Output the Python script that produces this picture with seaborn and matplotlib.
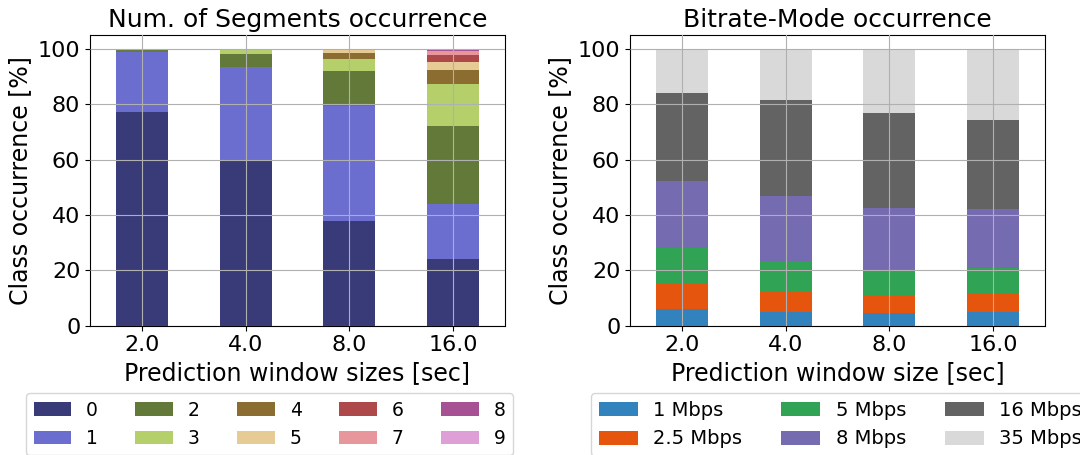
import numpy as np
import pandas as pd
import matplotlib
matplotlib.use("Agg")
import matplotlib.pyplot as plt
from matplotlib.patches import Patch
import seaborn as sns

# tailles de fenetre (axe x)
windows = ["2.0", "4.0", "8.0", "16.0"]

# Num. of Segments occurrence [%] -> une liste par classe 0..9
seg_classes = ["0", "1", "2", "3", "4", "5", "6", "7", "8", "9"]
seg_0 = [77.3, 59.9, 37.9, 24.1]
seg_1 = [21.4, 33.6, 41.6, 19.9]
seg_2 = [1.1, 4.7, 12.6, 28.2]
seg_3 = [0.2, 1.5, 4.3, 15.2]
seg_4 = [0.0, 0.2, 2.2, 5.1]
seg_5 = [0.0, 0.1, 1.1, 2.8]
seg_6 = [0.0, 0.0, 0.1, 2.6]
seg_7 = [0.0, 0.0, 0.2, 1.5]
seg_8 = [0.0, 0.0, 0.0, 0.4]
seg_9 = [0.0, 0.0, 0.0, 0.2]

# Bitrate-Mode occurrence [%]
br_labels = ["1 Mbps", "2.5 Mbps", "5 Mbps", "8 Mbps", "16 Mbps", "35 Mbps"]
br_1 = [6.0, 4.8, 4.6, 4.8]
br_2_5 = [9.6, 7.9, 6.6, 7.1]
br_5 = [12.3, 10.6, 9.3, 8.8]
br_8 = [24.3, 23.5, 22.0, 21.4]
br_16 = [31.8, 34.7, 34.3, 32.2]
br_35 = [16.0, 18.5, 23.2, 25.7]

seg_vals = np.array([seg_0, seg_1, seg_2, seg_3, seg_4, seg_5, seg_6, seg_7, seg_8, seg_9])
br_vals = np.array([br_1, br_2_5, br_5, br_8, br_16, br_35])

seg_colors = plt.get_cmap("tab20b")(np.linspace(0, 1, 10))
br_colors = plt.get_cmap("tab20c")(np.linspace(0, 1, 6))

fig = plt.figure(figsize=(10.8, 4.55), dpi=100)
ax1 = fig.add_axes([90 / 1080, 1 - 325.7 / 455, 415 / 1080, 290.7 / 455])
ax2 = fig.add_axes([630 / 1080, 1 - 325.7 / 455, 415 / 1080, 290.7 / 455])


def stacked(ax, vals, colors):
    # barres empilees : on trace les cumuls du plus haut au plus bas
    cum = np.cumsum(vals, axis=0)
    for k in reversed(range(len(vals))):
        df = pd.DataFrame({"w": windows, "v": cum[k]})
        sns.barplot(data=df, x="w", y="v", order=windows, color=colors[k],
                    saturation=1, width=0.5, errorbar=None, linewidth=0, ax=ax)
    ax.set_ylim(0, 105)
    ax.set_yticks([0, 20, 40, 60, 80, 100])
    ax.grid(True, color="#b0b0b0", linewidth=0.8)
    ax.set_axisbelow(False)
    ax.tick_params(labelsize=16)
    ax.set_ylabel("Class occurrence [%]", fontsize=17)


stacked(ax1, seg_vals, seg_colors)
ax1.set_title("Num. of Segments occurrence", fontsize=18)
ax1.set_xlabel("Prediction window sizes [sec]", fontsize=17)
h1 = [Patch(facecolor=c, label=l) for c, l in zip(seg_colors, seg_classes)]
fig.legend(handles=h1, ncol=5, fontsize=13.5, loc="upper left", borderaxespad=0,
           bbox_to_anchor=(26 / 1080, 1 - 393 / 455), bbox_transform=fig.transFigure)

stacked(ax2, br_vals, br_colors)
ax2.set_title("Bitrate-Mode occurrence", fontsize=18)
ax2.set_xlabel("Prediction window size [sec]", fontsize=17)
h2 = [Patch(facecolor=c, label=l) for c, l in zip(br_colors, br_labels)]
fig.legend(handles=h2, ncol=3, fontsize=14, loc="upper left", borderaxespad=0,
           bbox_to_anchor=(591 / 1080, 1 - 393 / 455), bbox_transform=fig.transFigure)

fig.savefig("out.png", dpi=100)
